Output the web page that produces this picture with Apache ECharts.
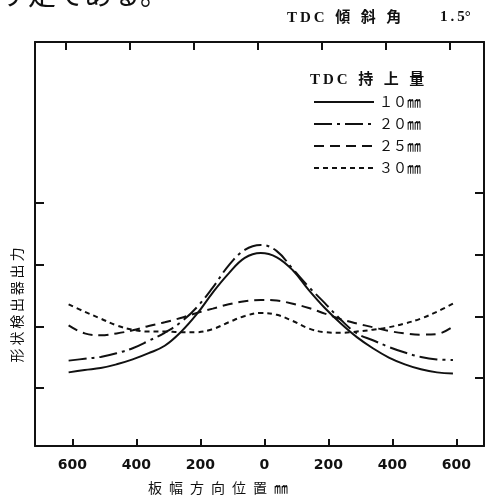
<!DOCTYPE html>
<html>
<head>
<meta charset="utf-8">
<script src="https://cdn.jsdelivr.net/npm/echarts@6.0.0/dist/echarts.min.js"></script>
<style>
	html, body { margin: 0; padding: 0; background: #fff; }
	#ShapeChart { width: 488px; height: 497px; }
</style>
</head>
<body>
<div id="ShapeChart"></div>
<script>
// 板幅方向位置 (mm), 左側をマイナスで持つ
var positions = [-600, -550, -500, -450, -400, -350, -300, -250, -200, -150, -100, -50, 0,
	50, 100, 150, 200, 250, 300, 350, 400, 450, 500, 550, 600];
var xTicks = [-600, -400, -200, 0, 200, 400, 600];
var yTicks = [1, 2, 3, 4];
var seriesNames = ['１０㎜', '２０㎜', '２５㎜', '３０㎜'];

// 形状検出器出力 (目盛り単位で読み取り)
var lift10 = [1.19, 1.23, 1.26, 1.32, 1.40, 1.50, 1.62, 1.84, 2.13, 2.48, 2.79, 3.04, 3.12,
	3.05, 2.84, 2.52, 2.23, 1.98, 1.76, 1.58, 1.43, 1.32, 1.24, 1.19, 1.17];
var lift20 = [1.38, 1.41, 1.44, 1.50, 1.58, 1.70, 1.83, 2.00, 2.24, 2.56, 2.92, 3.17, 3.25,
	3.15, 2.86, 2.57, 2.31, 2.04, 1.82, 1.71, 1.60, 1.51, 1.44, 1.40, 1.39];
var lift25 = [1.95, 1.82, 1.79, 1.82, 1.87, 1.94, 2.00, 2.07, 2.15, 2.22, 2.29, 2.34, 2.36,
	2.35, 2.30, 2.23, 2.14, 2.05, 1.98, 1.92, 1.86, 1.82, 1.80, 1.81, 1.93];
var lift30 = [2.29, 2.17, 2.06, 1.95, 1.88, 1.85, 1.85, 1.84, 1.84, 1.89, 2.00, 2.10, 2.15,
	2.12, 2.02, 1.90, 1.84, 1.83, 1.85, 1.88, 1.92, 1.98, 2.06, 2.17, 2.30];

(function(){
	var chartDom = document.getElementById('ShapeChart');
	var chart = echarts.init(chartDom, null, {renderer: 'canvas'});
	var ink = '#111';
	var serifFont = '"Liberation Serif", "Noto Sans CJK JP", serif';
	var cjkFont = '"Noto Sans CJK JP", sans-serif';
	var gap = '\u2002\u2009';

	var dashTypes = ['solid', [18, 5, 3, 5], [10, 6], [5, 4]];
	var lifts = [lift10, lift20, lift25, lift30];

	function toPairs(values){
		return positions.map(function(p, i){ return [p, values[i]]; });
	}

	var series = seriesNames.map(function(name, i){
		return {
			name: name,
			type: 'line',
			xAxisIndex: 2,
			yAxisIndex: 2,
			smooth: 0.4,
			symbol: 'none',
			showSymbol: false,
			lineStyle: { color: ink, width: 2, type: dashTypes[i] },
			itemStyle: { color: ink },
			data: toPairs(lifts[i])
		};
	});

	var frameLine = { show: true, onZero: false, lineStyle: { color: ink, width: 2 } };
	var tickStyle = { color: ink, width: 2 };

	// 原図はわずかに傾いているので、上下左右の目盛りは別々の軸で合わせる
	var option = {
		animation: false,
		backgroundColor: '#fff',
		grid: { left: 35, right: 4, top: 42, bottom: 51 },
		legend: {
			orient: 'vertical',
			left: 308,
			top: 90,
			itemWidth: 60,
			itemHeight: 14,
			itemGap: 8,
			itemStyle: { color: 'rgba(0,0,0,0)', borderWidth: 0, opacity: 0 },
			textStyle: { color: ink, fontSize: 14, fontFamily: cjkFont },
			data: seriesNames
		},
		xAxis: [
			{
				type: 'value', position: 'bottom', min: -717, max: 686,
				axisLine: frameLine,
				axisTick: { inside: true, length: 7, customValues: xTicks, lineStyle: tickStyle },
				axisLabel: {
					customValues: xTicks, margin: 12, color: ink, fontSize: 14,
					fontWeight: 'bold', fontFamily: '"DejaVu Sans", sans-serif',
					formatter: function(v){ return String(Math.abs(v)); }
				},
				splitLine: { show: false }
			},
			{
				type: 'value', position: 'top', min: -695, max: 708,
				axisLine: frameLine,
				axisTick: { inside: true, length: 8, customValues: xTicks, lineStyle: tickStyle },
				axisLabel: { show: false },
				splitLine: { show: false }
			},
			{ type: 'value', show: false, min: -705, max: 697 }
		],
		yAxis: [
			{
				type: 'value', position: 'left', min: 0.06, max: 6.61,
				axisLine: frameLine,
				axisTick: { inside: true, length: 9, customValues: yTicks, lineStyle: tickStyle },
				axisLabel: { show: false },
				splitLine: { show: false }
			},
			{
				type: 'value', position: 'right', min: -0.10, max: 6.45,
				axisLine: frameLine,
				axisTick: { inside: true, length: 9, customValues: yTicks, lineStyle: tickStyle },
				axisLabel: { show: false },
				splitLine: { show: false }
			},
			{ type: 'value', show: false, min: 0, max: 6.53 }
		],
		graphic: [
			{ type: 'text', x: 0, y: -20, silent: true,
				style: { text: 'す定である。', fill: ink, fontSize: 28, fontFamily: cjkFont } },
			{ type: 'text', x: 287, y: 18, silent: true,
				style: { text: 'T\u2009D\u2009C' + gap + '傾' + gap + '斜' + gap + '角', fill: ink,
					fontSize: 15, fontWeight: 'bold', fontFamily: serifFont, verticalAlign: 'middle' } },
			{ type: 'text', x: 440, y: 17, silent: true,
				style: { text: '1\u2009.\u20095°', fill: ink, fontSize: 15, fontWeight: 'bold',
					fontFamily: serifFont, verticalAlign: 'middle' } },
			{ type: 'text', x: 310, y: 80, silent: true,
				style: { text: 'T\u2009D\u2009C' + gap + '持' + gap + '上' + gap + '量', fill: ink,
					fontSize: 15, fontWeight: 'bold', fontFamily: serifFont, verticalAlign: 'middle' } },
			{ type: 'text', x: 17, y: 305, rotation: Math.PI / 2, silent: true,
				style: { text: '形\u2009状\u2009検\u2009出\u2009器\u2009出\u2009力', fill: ink, fontSize: 14,
					fontFamily: cjkFont, align: 'center', verticalAlign: 'middle' } },
			{ type: 'text', x: 218, y: 488, silent: true,
				style: { text: '板\u2002幅\u2002方\u2002向\u2002位\u2002置\u2002㎜', fill: ink, fontSize: 14,
					fontFamily: cjkFont, align: 'center', verticalAlign: 'middle' } }
		],
		series: series
	};

	if (option && typeof option === 'object') {
		chart.setOption(option, true);
	}
})();
</script>
</body>
</html>
